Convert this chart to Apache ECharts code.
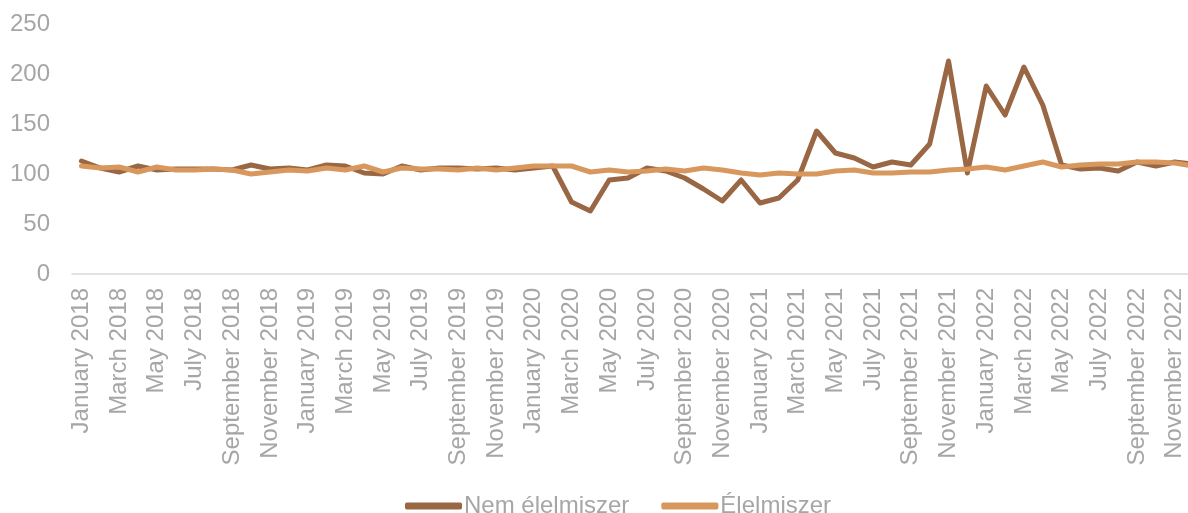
<!DOCTYPE html>
<html>
<head>
<meta charset="utf-8">
<script src="https://cdn.jsdelivr.net/npm/echarts@6/dist/echarts.min.js"></script>
<style>
  html, body { margin: 0; padding: 0; background: #fff; }
  #chart { width: 1188px; height: 513px; }
</style>
</head>
<body>
<div id="chart"></div>
<script>
const months = ['January', 'February', 'March', 'April', 'May', 'June', 'July',
  'August', 'September', 'October', 'November', 'December']
const years = [2018, 2019, 2020, 2021, 2022]
const categories = []
years.forEach(y => months.forEach(m => categories.push(m + ' ' + y)))

// Nem élelmiszer
const nonFood = [
  113, 106, 102, 108, 104, 105, 105, 105, 104, 109, 105, 106,
  104, 109, 108, 101, 100, 108, 104, 106, 106, 105, 106, 104,
  106, 108, 72, 63, 94, 96, 106, 103, 96, 85, 73, 94,
  71, 76, 94, 143, 121, 116, 107, 112, 109, 130, 213, 101,
  188, 159, 207, 169, 109, 105, 106, 103, 112, 108, 112, 110
]
// Élelmiszer
const food = [
  108, 106, 107, 102, 107, 104, 104, 105, 104, 100, 102, 104,
  103, 106, 104, 108, 102, 106, 105, 105, 104, 106, 104, 106,
  108, 108, 108, 102, 104, 102, 103, 105, 103, 106, 104, 101,
  99, 101, 100, 100, 103, 104, 101, 101, 102, 102, 104, 105,
  107, 104, 108, 112, 107, 109, 110, 110, 112, 112, 111, 108
]

const yTicks = { min: 0, max: 250, interval: 50 }

const labelColor = '#a6a6a6'
const font = 'Liberation Sans, Arial, sans-serif'

const chart = echarts.init(document.getElementById('chart'))
chart.setOption({
  animation: false,
  grid: {
    left: 72,
    width: 1131,
    top: 24,
    bottom: 239,
    containLabel: false,
    outerBoundsMode: 'none'
  },
  legend: {
    left: 400,
    top: 489,
    icon: 'roundRect',
    itemWidth: 57,
    itemHeight: 7,
    itemGap: 32,
    textStyle: {
      color: labelColor,
      fontSize: 24,
      fontFamily: font,
      padding: [0, 0, 0, -3]
    },
    data: ['Nem élelmiszer', 'Élelmiszer']
  },
  xAxis: {
    type: 'category',
    data: categories,
    boundaryGap: true,
    axisLine: { lineStyle: { color: '#d9d9d9', width: 1.5 } },
    axisTick: { show: false },
    axisLabel: {
      interval: 1,
      rotate: 90,
      margin: 14,
      color: labelColor,
      fontSize: 24,
      fontFamily: font
    }
  },
  yAxis: {
    type: 'value',
    min: yTicks.min,
    max: yTicks.max,
    interval: yTicks.interval,
    splitLine: { show: false },
    axisLine: { show: false },
    axisTick: { show: false },
    axisLabel: {
      margin: 22,
      color: labelColor,
      fontSize: 24,
      fontFamily: font
    }
  },
  series: [
    {
      name: 'Nem élelmiszer',
      type: 'line',
      data: nonFood,
      symbol: 'none',
      itemStyle: { color: '#996744' },
      lineStyle: { color: '#996744', width: 5, cap: 'round', join: 'round' }
    },
    {
      name: 'Élelmiszer',
      type: 'line',
      data: food,
      symbol: 'none',
      itemStyle: { color: '#d8975d' },
      lineStyle: { color: '#d8975d', width: 5, cap: 'round', join: 'round' }
    }
  ]
})
</script>
</body>
</html>
